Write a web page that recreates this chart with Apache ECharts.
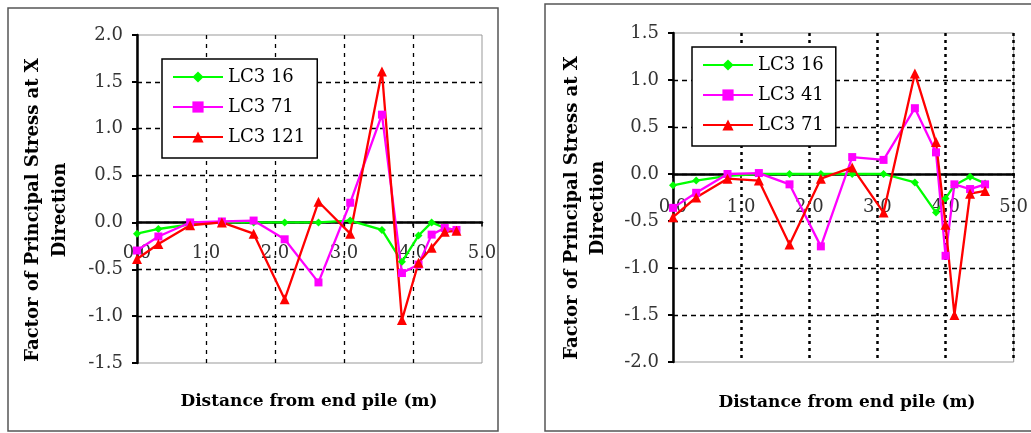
<!DOCTYPE html>
<html>
<head>
<meta charset="utf-8">
<script src="https://cdn.jsdelivr.net/npm/echarts@6/dist/echarts.min.js"></script>
<style>
  html, body { margin: 0; padding: 0; background: #fff; }
  #chart { width: 1031px; height: 433px; }
</style>
</head>
<body>
<div id="chart"></div>
<script>
// left chart data
const xLeft = [0, 0.31, 0.77, 1.23, 1.69, 2.14, 2.63, 3.09, 3.55, 3.84, 4.08, 4.27, 4.46, 4.63]
const leftLC3_16 = [-0.12, -0.07, -0.02, 0, 0, 0, 0, 0.02, -0.08, -0.42, -0.14, 0.0, -0.06, -0.08]
const leftLC3_71 = [-0.3, -0.15, 0.0, 0.01, 0.02, -0.18, -0.64, 0.21, 1.15, -0.54, -0.45, -0.13, -0.06, -0.08]
const leftLC3_121 = [-0.39, -0.23, -0.03, 0, -0.12, -0.82, 0.22, -0.12, 1.61, -1.04, -0.43, -0.27, -0.1, -0.09]

// right chart data
const xRight = [0, 0.34, 0.8, 1.26, 1.71, 2.17, 2.63, 3.09, 3.55, 3.86, 4.0, 4.13, 4.36, 4.58]
const rightLC3_16 = [-0.12, -0.07, -0.02, 0, 0, 0, 0, 0, -0.09, -0.41, -0.26, -0.12, -0.03, -0.1]
const rightLC3_41 = [-0.36, -0.2, 0, 0.01, -0.11, -0.77, 0.18, 0.15, 0.7, 0.23, -0.87, -0.11, -0.16, -0.11]
const rightLC3_71 = [-0.46, -0.25, -0.05, -0.07, -0.75, -0.05, 0.07, -0.41, 1.07, 0.34, -0.54, -1.5, -0.21, -0.18]

const legendLeft = ['LC3 16', 'LC3 71', 'LC3 121']
const legendRight = ['LC3 16', 'LC3 41', 'LC3 71']
const yTitle = 'Factor of Principal Stress at X\nDirection'
const xTitle = 'Distance from end pile (m)'

const FONT = 'DejaVu Serif'
const pairs = (xs, ys) => xs.map((x, i) => [x, ys[i]])

const mkSeries = (name, xs, ys, idx, color, symbol, size) => ({
	name: name,
	type: 'line',
	xAxisIndex: idx,
	yAxisIndex: idx,
	data: pairs(xs, ys),
	symbol: symbol,
	symbolSize: size,
	showAllSymbol: true,
	lineStyle: { color: color, width: 2.3 },
	itemStyle: { color: color },
	z: 3
})

// x axis sits on y = 0, shifted up from the grid bottom
const mkX = (idx, dotted, labelMargin, offset) => ({
	type: 'value',
	gridIndex: idx,
	min: 0,
	max: 5,
	interval: 1,
	offset: offset,
	axisLine: { onZero: false, lineStyle: { color: '#000', width: 2.5 } },
	axisTick: { show: true, length: 4, lineStyle: { color: '#000', width: 1.5 } },
	axisLabel: {
		formatter: (v) => v.toFixed(1),
		fontFamily: FONT,
		fontSize: 18,
		color: '#333',
		margin: labelMargin
	},
	splitLine: {
		show: true,
		showMinLine: false,
		showMaxLine: dotted,
		lineStyle: dotted
			? { color: '#000', width: 2.5, type: [3, 4] }
			: { color: '#000', width: 1.3, type: [4, 5] }
	}
})

const mkY = (idx, min, max) => ({
	type: 'value',
	gridIndex: idx,
	min: min,
	max: max,
	interval: 0.5,
	axisLine: { show: true, onZero: false, lineStyle: { color: '#000', width: 2.5 } },
	axisTick: { show: true, length: 5, lineStyle: { color: '#000', width: 2 } },
	axisLabel: {
		formatter: (v) => v.toFixed(1),
		fontFamily: FONT,
		fontSize: 18,
		color: '#333',
		margin: 14
	},
	splitLine: {
		show: true,
		showMinLine: false,
		showMaxLine: false,
		lineStyle: { color: '#000', width: 1.3, type: [5, 4] }
	}
})

const mkLegend = (prefix, names, left, top) => ({
	orient: 'vertical',
	left: left,
	top: top,
	data: names.map((n) => prefix + n),
	formatter: (n) => n.slice(prefix.length),
	backgroundColor: '#fff',
	borderColor: '#000',
	borderWidth: 1.5,
	padding: [9, 12, 12, 10],
	itemWidth: 50,
	itemHeight: 14,
	itemGap: 12,
	textStyle: { fontFamily: FONT, fontSize: 18, color: '#000' },
	z: 5
})

const chart = echarts.init(document.getElementById('chart'))
chart.setOption({
	animation: false,
	backgroundColor: '#fff',
	grid: [
		{ left: 137, top: 35, width: 345, height: 328, show: true, borderColor: '#999', borderWidth: 1 },
		{ left: 673, top: 33, width: 346, height: 329, show: true, borderColor: '#999', borderWidth: 1 }
	],
	xAxis: [mkX(0, false, 22, -140.6), mkX(1, true, 24, -188)],
	yAxis: [mkY(0, -1.5, 2.0), mkY(1, -2.0, 1.5)],
	legend: [mkLegend('a:', legendLeft, 162, 59), mkLegend('b:', legendRight, 692, 47)],
	series: [
		mkSeries('a:LC3 16', xLeft, leftLC3_16, 0, '#00ff00', 'diamond', 8),
		mkSeries('a:LC3 71', xLeft, leftLC3_71, 0, '#ff00ff', 'rect', 8),
		mkSeries('a:LC3 121', xLeft, leftLC3_121, 0, '#ff0000', 'triangle', 10),
		mkSeries('b:LC3 16', xRight, rightLC3_16, 1, '#00ff00', 'diamond', 8),
		mkSeries('b:LC3 41', xRight, rightLC3_41, 1, '#ff00ff', 'rect', 8),
		mkSeries('b:LC3 71', xRight, rightLC3_71, 1, '#ff0000', 'triangle', 10)
	],
	graphic: [
		// outer frames
		{ type: 'rect', shape: { x: 8, y: 8, width: 490, height: 423 }, style: { fill: 'none', stroke: '#555', lineWidth: 1.5 }, z: -1 },
		{ type: 'rect', shape: { x: 545, y: 4, width: 500, height: 427 }, style: { fill: 'none', stroke: '#555', lineWidth: 1.5 }, z: -1 },
		// axis titles
		{ type: 'text', x: 47, y: 210, rotation: Math.PI / 2, style: { text: yTitle, font: 'bold 18px "DejaVu Serif"', textAlign: 'center', textVerticalAlign: 'middle', lineHeight: 27, fill: '#000' } },
		{ type: 'text', x: 585, y: 208, rotation: Math.PI / 2, style: { text: yTitle, font: 'bold 18px "DejaVu Serif"', textAlign: 'center', textVerticalAlign: 'middle', lineHeight: 26, fill: '#000' } },
		{ type: 'text', x: 309, y: 402, style: { text: xTitle, font: 'bold 17px "DejaVu Serif"', textAlign: 'center', textVerticalAlign: 'middle', fill: '#000' } },
		{ type: 'text', x: 847, y: 403, style: { text: xTitle, font: 'bold 17px "DejaVu Serif"', textAlign: 'center', textVerticalAlign: 'middle', fill: '#000' } }
	]
})
</script>
</body>
</html>
